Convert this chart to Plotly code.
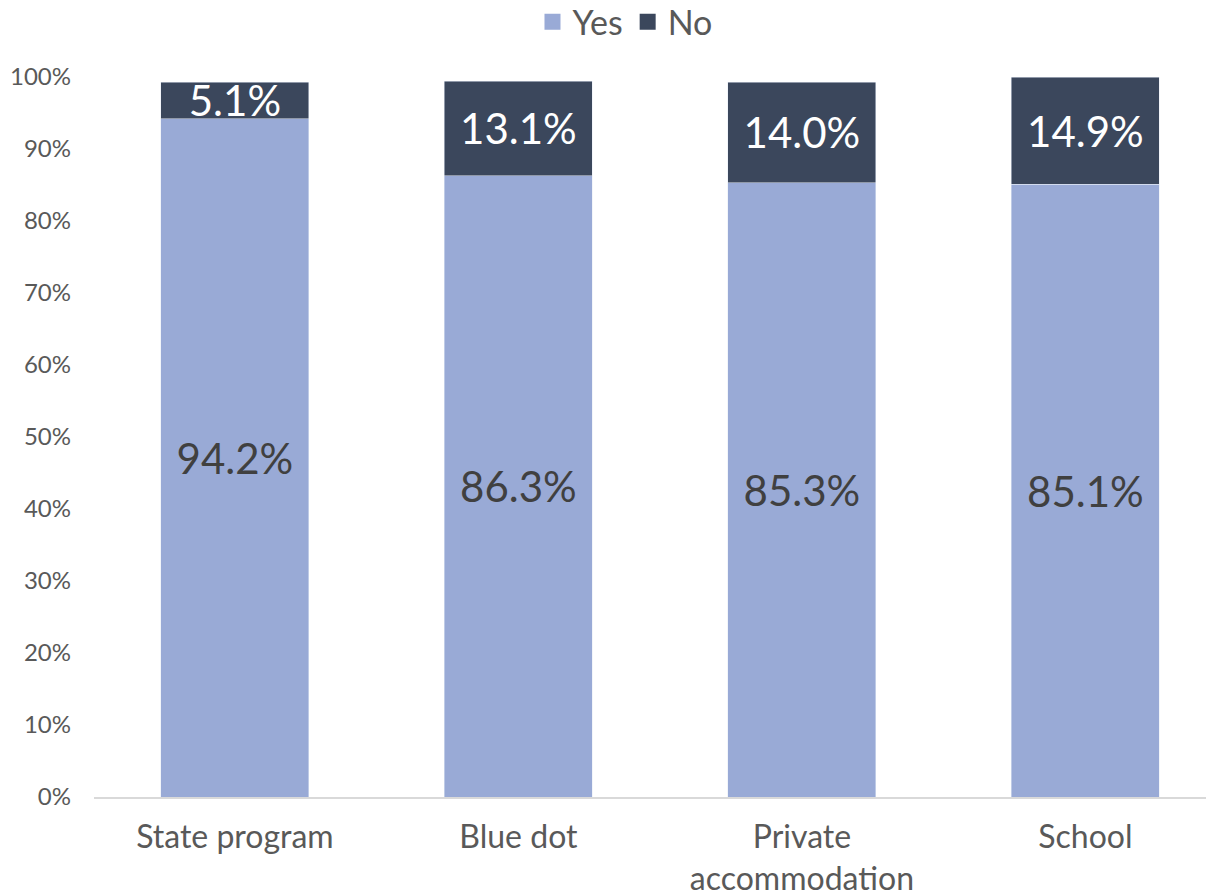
import plotly.graph_objects as go

categories = ["State program", "Blue dot", "Private<br>accommodation", "School"]
yes_vals = [94.2, 86.3, 85.3, 85.1]
no_vals = [5.1, 13.1, 14.0, 14.9]
y_ticks = [0, 10, 20, 30, 40, 50, 60, 70, 80, 90, 100]

FONT = "Lato, 'Open Sans', sans-serif"
YES_C = "#99AAD6"
NO_C = "#3B475C"

fig = go.Figure()
fig.add_trace(go.Bar(
    x=categories, y=yes_vals, name="Yes", marker_color=YES_C, showlegend=False,
    text=[f"{v:.1f}%" for v in yes_vals], textposition="inside",
    insidetextanchor="middle", constraintext="none",
    textfont=dict(family=FONT, size=42, color="#404040"),
))
fig.add_trace(go.Bar(
    x=categories, y=no_vals, name="No", marker_color=NO_C, showlegend=False,
    text=[f"{v:.1f}%" for v in no_vals], textposition="inside",
    insidetextanchor="middle", constraintext="none",
    textfont=dict(family=FONT, size=42, color="white"),
))
# legend entries with square markers
for name, col in [("Yes", YES_C), ("No", NO_C)]:
    fig.add_trace(go.Scatter(
        x=[None], y=[None], mode="markers", name=name,
        marker=dict(symbol="square", size=18, color=col),
    ))

fig.update_layout(
    barmode="stack", bargap=0.478,
    width=1206, height=883,
    margin=dict(l=86, r=1, t=69, b=94, autoexpand=False),
    plot_bgcolor="white", paper_bgcolor="white",
    font=dict(family=FONT, color="#595959"),
    legend=dict(orientation="h", x=0.5116, xref="container", xanchor="center",
                y=0.984, yanchor="middle",
                yref="container", font=dict(size=34, color="#595959"),
                itemwidth=30, traceorder="normal", itemsizing="trace",
                tracegroupgap=0),
    showlegend=True,
)
fig.update_xaxes(showline=True, linecolor="#D9D9D9", linewidth=2,
                 range=[-0.497, 3.450],
                 tickfont=dict(size=32, color="#595959"), ticks="", ticklabelstandoff=11)
fig.update_yaxes(range=[0, 100], tickvals=y_ticks, ticktext=[f"{t}%" for t in y_ticks],
                 showgrid=False, zeroline=False, tickfont=dict(size=24, color="#595959"),
                 ticklabelstandoff=22)

fig.write_html("out.html")
